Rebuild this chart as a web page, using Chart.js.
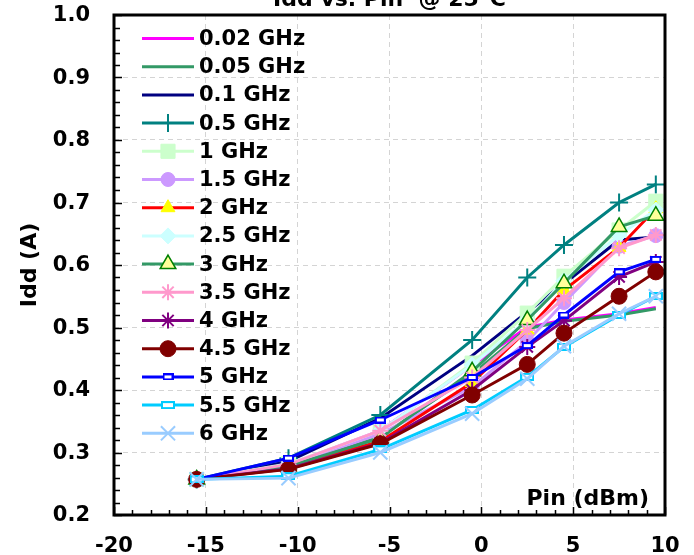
<!DOCTYPE html>
<html>
<head>
<meta charset="utf-8">
<title>Idd vs. Pin</title>
<script src="https://cdn.jsdelivr.net/npm/chart.js@4.4.0/dist/chart.umd.min.js"></script>
<style>
  html, body { margin: 0; padding: 0; background: #fff; }
  #iddChart { display: block; }
</style>
</head>
<body>
<canvas id="iddChart" width="694" height="555"></canvas>
<script>
// Potencia de entrada (dBm), igual para todas las curvas
const pin = [-15.5, -10.5, -5.5, -0.5, 2.5, 4.5, 7.5, 9.5];

// Idd (A) por frecuencia
const idd_002 = [0.257, 0.280, 0.335, 0.440, 0.500, 0.512, 0.522, 0.532];
const idd_005 = [0.257, 0.278, 0.325, 0.425, 0.498, 0.510, 0.520, 0.530];
const idd_01  = [0.257, 0.286, 0.355, 0.455, 0.525, 0.570, 0.640, 0.645];
const idd_05  = [0.257, 0.291, 0.360, 0.480, 0.580, 0.632, 0.700, 0.729];
const idd_1   = [0.257, 0.282, 0.333, 0.443, 0.523, 0.582, 0.656, 0.702];
const idd_15  = [0.257, 0.280, 0.330, 0.405, 0.478, 0.540, 0.630, 0.647];
const idd_2   = [0.257, 0.276, 0.318, 0.412, 0.496, 0.560, 0.628, 0.690];
const idd_25  = [0.257, 0.281, 0.335, 0.440, 0.512, 0.575, 0.648, 0.688];
const idd_3   = [0.257, 0.278, 0.323, 0.430, 0.512, 0.571, 0.661, 0.679];
const idd_35  = [0.257, 0.281, 0.335, 0.420, 0.496, 0.547, 0.627, 0.648];
const idd_4   = [0.257, 0.274, 0.315, 0.400, 0.469, 0.511, 0.581, 0.605];
const idd_45  = [0.257, 0.273, 0.314, 0.392, 0.441, 0.491, 0.550, 0.589];
const idd_5   = [0.257, 0.291, 0.352, 0.420, 0.471, 0.520, 0.589, 0.609];
const idd_55  = [0.257, 0.262, 0.305, 0.368, 0.421, 0.469, 0.520, 0.550];
const idd_6   = [0.257, 0.259, 0.300, 0.362, 0.418, 0.470, 0.522, 0.550];

const frecuencias = ['0.02 GHz', '0.05 GHz', '0.1 GHz', '0.5 GHz', '1 GHz', '1.5 GHz', '2 GHz',
    '2.5 GHz', '3 GHz', '3.5 GHz', '4 GHz', '4.5 GHz', '5 GHz', '5.5 GHz', '6 GHz'];
const series = [idd_002, idd_005, idd_01, idd_05, idd_1, idd_15, idd_2,
    idd_25, idd_3, idd_35, idd_4, idd_45, idd_5, idd_55, idd_6];

const ticksX = [-20, -15, -10, -5, 0, 5, 10];
const ticksY = [0.2, 0.3, 0.4, 0.5, 0.6, 0.7, 0.8, 0.9, 1.0];

// Marcador tipo guion (rectangulo hueco), como en Excel
function marcaGuion(w, h, color) {
    const c = document.createElement('canvas');
    c.width = w + 2;
    c.height = h + 2;
    const g = c.getContext('2d');
    g.fillStyle = '#fff';
    g.fillRect(1, 1, w, h);
    g.strokeStyle = color;
    g.lineWidth = 2;
    g.strokeRect(1, 1, w, h);
    return c;
}

// Estilo de cada curva
const estilos = [
    { color: '#ff00ff', punto: false },
    { color: '#339966', punto: false },
    { color: '#000080', punto: false },
    { color: '#008080', punto: 'cross', radio: 9, fondo: '#008080', borde: '#008080', grosor: 2 },
    { color: '#ccffcc', punto: 'rect', radio: 10, fondo: '#ccffcc', borde: '#ccffcc', grosor: 1 },
    { color: '#cc99ff', punto: 'circle', radio: 7, fondo: '#cc99ff', borde: '#cc99ff', grosor: 1 },
    { color: '#ff0000', punto: 'triangle', radio: 8, fondo: '#ffff00', borde: '#ffff00', grosor: 1 },
    { color: '#ccffff', punto: 'rectRot', radio: 8, fondo: '#ccffff', borde: '#ccffff', grosor: 1 },
    { color: '#339966', punto: 'triangle', radio: 9, fondo: '#ffff99', borde: '#008000', grosor: 1.5 },
    { color: '#ff99cc', punto: 'star', radio: 8, fondo: '#ff99cc', borde: '#ff99cc', grosor: 2 },
    { color: '#800080', punto: 'star', radio: 8, fondo: '#800080', borde: '#800080', grosor: 2 },
    { color: '#800000', punto: 'circle', radio: 8, fondo: '#800000', borde: '#800000', grosor: 1 },
    { color: '#0000ff', punto: marcaGuion(9, 5, '#0000ff'), radio: 5, fondo: '#0000ff', borde: '#0000ff', grosor: 1 },
    { color: '#00ccff', punto: marcaGuion(12, 6, '#00ccff'), radio: 6, fondo: '#00ccff', borde: '#00ccff', grosor: 1 },
    { color: '#99ccff', punto: 'crossRot', radio: 10, fondo: '#99ccff', borde: '#99ccff', grosor: 2 }
];

const fuente = '"DejaVu Sans", "Liberation Sans", sans-serif';

const datasets = series.map((serie, i) => {
    const e = estilos[i];
    return {
        label: frecuencias[i],
        data: pin.map((p, j) => ({ x: p, y: serie[j] })),
        borderColor: e.color,
        backgroundColor: e.color,
        borderWidth: 3,
        pointStyle: e.punto || 'circle',
        pointRadius: e.punto ? e.radio : 0,
        pointHoverRadius: e.punto ? e.radio : 0,
        pointBackgroundColor: e.fondo || e.color,
        pointBorderColor: e.borde || e.color,
        pointBorderWidth: e.grosor || 1,
        tension: 0,
        order: series.length - 1 - i // las ultimas series quedan encima
    };
});

// Marco, marcas internas, etiquetas, titulos y leyenda
const decoracion = {
    id: 'decoracion',
    afterDraw(chart) {
        const ctx = chart.ctx;
        const a = chart.chartArea;
        const sx = chart.scales.x;
        const sy = chart.scales.y;
        ctx.save();

        // marcas hacia dentro
        ctx.strokeStyle = '#000';
        ctx.lineWidth = 1.5;
        ctx.setLineDash([]);
        ctx.beginPath();
        for (let v = ticksX[0]; v <= ticksX[ticksX.length - 1]; v++) {
            const px = Math.round(sx.getPixelForValue(v)) + 0.5;
            const largo = v % 5 === 0 ? 8 : 5;
            ctx.moveTo(px, a.bottom);
            ctx.lineTo(px, a.bottom - largo);
        }
        for (let k = 0; k <= 40; k++) {
            const py = Math.round(sy.getPixelForValue(0.2 + k * 0.02)) + 0.5;
            const largo = k % 5 === 0 ? 8 : 6;
            ctx.moveTo(a.left, py);
            ctx.lineTo(a.left + largo, py);
        }
        ctx.stroke();

        // marco grueso
        ctx.lineWidth = 3;
        ctx.strokeRect(a.left, a.top, a.right - a.left, a.bottom - a.top);

        // etiquetas de los ejes
        ctx.fillStyle = '#000';
        ctx.font = 'bold 21px ' + fuente;
        ctx.textBaseline = 'middle';
        ctx.textAlign = 'right';
        ticksY.forEach(v => {
            ctx.fillText(v.toFixed(1), a.left - 24, sy.getPixelForValue(v) + 1);
        });
        ctx.textAlign = 'center';
        ticksX.forEach(v => {
            ctx.fillText(String(v), sx.getPixelForValue(v), a.bottom + 32);
        });

        // titulo (cortado arriba como en el original)
        ctx.font = 'bold 22px ' + fuente;
        ctx.textAlign = 'center';
        ctx.textBaseline = 'alphabetic';
        ctx.fillText('Idd vs. Pin  @ 25°C', (a.left + a.right) / 2, 6);

        // titulo eje x dentro del grafico
        ctx.textAlign = 'right';
        ctx.fillText('Pin (dBm)', a.right - 16, a.bottom - 10);

        // titulo eje y
        ctx.save();
        ctx.translate(30, (a.top + a.bottom) / 2);
        ctx.rotate(-Math.PI / 2);
        ctx.textAlign = 'center';
        ctx.textBaseline = 'middle';
        ctx.fillText('Idd (A)', 0, 0);
        ctx.restore();

        // leyenda
        chart.data.datasets.forEach((ds, i) => {
            const yy = a.top + 23.5 + i * 28.2;
            ctx.strokeStyle = ds.borderColor;
            ctx.lineWidth = 3;
            ctx.beginPath();
            ctx.moveTo(a.left + 28, yy);
            ctx.lineTo(a.left + 80, yy);
            ctx.stroke();
            if (ds.pointRadius > 0 && Chart.helpers && Chart.helpers.drawPoint) {
                ctx.fillStyle = ds.pointBackgroundColor;
                ctx.strokeStyle = ds.pointBorderColor;
                ctx.lineWidth = ds.pointBorderWidth;
                Chart.helpers.drawPoint(ctx, {
                    pointStyle: ds.pointStyle,
                    radius: ds.pointRadius,
                    rotation: 0,
                    borderWidth: ds.pointBorderWidth
                }, a.left + 54, yy);
            }
            ctx.fillStyle = '#000';
            ctx.font = 'bold 21px ' + fuente;
            ctx.textAlign = 'left';
            ctx.textBaseline = 'middle';
            ctx.fillText(frecuencias[i], a.left + 85, yy + 1);
        });

        ctx.restore();
    }
};

const ctx = document.getElementById('iddChart').getContext('2d');

const iddChart = new Chart(ctx, {
    type: 'line',
    data: { datasets: datasets },
    options: {
        responsive: false,
        animation: false,
        layout: { padding: { top: 15, right: 29, left: 0, bottom: 0 } },
        plugins: {
            legend: { display: false },
            tooltip: { enabled: false },
            title: { display: false }
        },
        scales: {
            x: {
                type: 'linear',
                min: ticksX[0],
                max: ticksX[ticksX.length - 1],
                afterBuildTicks: function(scale) {
                    scale.ticks = ticksX.map(v => ({ value: v }));
                },
                afterFit: function(scale) {
                    scale.height = 40;
                },
                ticks: { display: false },
                grid: { color: '#d4d4d4', lineWidth: 1, drawTicks: false },
                border: { display: false, dash: [5, 4] }
            },
            y: {
                type: 'linear',
                min: ticksY[0],
                max: ticksY[ticksY.length - 1],
                afterBuildTicks: function(scale) {
                    scale.ticks = ticksY.map(v => ({ value: v }));
                },
                afterFit: function(scale) {
                    scale.width = 114;
                },
                ticks: { display: false },
                grid: { color: '#d4d4d4', lineWidth: 1, drawTicks: false },
                border: { display: false, dash: [5, 4] }
            }
        }
    },
    plugins: [decoracion]
});
</script>
</body>
</html>
